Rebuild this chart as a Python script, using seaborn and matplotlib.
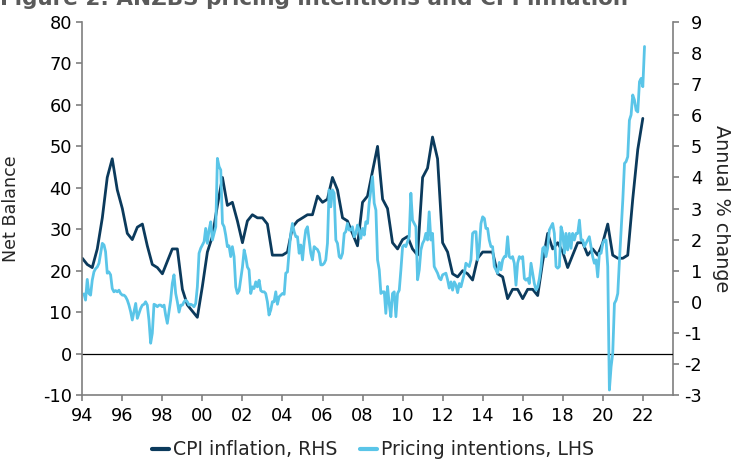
"""
ANZBS pricing intentions vs CPI inflation (dual axis line chart).
"""

import pandas as pd
import matplotlib
matplotlib.use("Agg")
import matplotlib.pyplot as plt
import matplotlib.dates as mdates
from matplotlib.lines import Line2D
import seaborn as sns

# Pricing intentions, net balance, monthly Jan 1994 - Jan 2022 (LHS)
pricing_intentions = [
    14.4, 12.9, 17.9, 14.5, 14.1, 17.7, 19.7, 20.5, 20.9, 21.8, 24.2, 26.6,
    26.2, 24.6, 19.4, 19.7, 19.0, 15.7, 14.9, 15.2, 14.9, 15.3, 14.5, 14.1,
    14.1, 13.7, 12.9, 11.7, 10.1, 8.1, 10.1, 12.1, 8.5, 9.7, 10.9, 11.7,
    11.9, 12.5, 11.7, 8.1, 2.5, 4.9, 11.9, 11.7, 11.3, 11.7, 11.7, 11.3,
    11.7, 9.3, 7.3, 10.0, 12.9, 16.9, 19.0, 14.5, 12.5, 10.0, 11.7, 11.7,
    12.5, 12.9, 12.5, 11.7, 11.9, 11.7, 11.3, 12.1, 16.1, 24.2, 25.4, 26.2,
    27.0, 30.2, 26.6, 29.8, 31.8, 27.4, 29.0, 30.6, 47.1, 45.1, 44.3, 31.4,
    30.6, 28.6, 25.8, 26.0, 23.4, 25.8, 23.4, 16.1, 14.5, 15.2, 18.1, 20.9,
    25.0, 23.4, 20.9, 20.2, 14.5, 16.1, 15.7, 17.3, 16.1, 17.7, 15.2, 14.9,
    14.9, 14.5, 12.5, 9.3, 10.5, 12.5, 12.5, 14.9, 11.9, 13.7, 14.1, 14.5,
    14.3, 19.4, 19.7, 24.6, 29.0, 31.4, 29.4, 28.2, 28.2, 24.2, 26.2, 22.6,
    27.0, 29.8, 30.6, 27.4, 24.2, 22.6, 25.8, 25.4, 25.1, 24.2, 21.4, 21.4,
    21.8, 22.6, 26.6, 39.5, 35.4, 39.5, 38.7, 27.4, 26.6, 23.4, 23.0, 24.2,
    29.0, 29.4, 31.4, 29.8, 29.8, 30.6, 28.2, 29.0, 31.0, 29.8, 27.8, 30.2,
    28.6, 31.8, 31.4, 36.3, 39.5, 42.7, 36.3, 34.6, 22.6, 20.2, 14.5, 14.9,
    14.9, 9.7, 16.2, 12.1, 8.9, 14.5, 14.9, 8.9, 14.5, 15.3, 20.2, 25.8,
    26.2, 25.8, 27.0, 28.2, 38.7, 32.2, 31.4, 30.6, 17.8, 20.2, 25.0, 26.6,
    27.4, 29.0, 27.4, 34.2, 27.4, 29.0, 21.0, 20.2, 19.4, 18.2, 17.8, 19.0,
    19.2, 19.4, 17.8, 15.8, 17.3, 15.3, 17.3, 16.5, 14.7, 16.9, 16.1, 17.8,
    19.4, 21.8, 21.4, 21.0, 22.6, 29.0, 29.4, 29.4, 22.6, 25.8, 31.4, 33.0,
    32.6, 30.2, 30.2, 27.4, 25.8, 25.8, 21.0, 20.2, 19.4, 22.0, 20.2, 22.6,
    23.4, 23.4, 28.2, 23.4, 23.0, 23.4, 21.8, 16.5, 21.8, 23.4, 23.0, 23.4,
    18.1, 17.7, 18.1, 16.9, 21.8, 19.4, 16.9, 15.3, 16.1, 18.1, 21.0, 25.4,
    25.8, 23.4, 25.4, 29.8, 30.6, 31.4, 29.0, 21.0, 20.6, 21.0, 30.6, 29.0,
    24.2, 29.0, 25.0, 29.0, 25.4, 29.0, 27.4, 29.0, 29.0, 32.2, 27.4, 27.4,
    25.8, 26.6, 27.4, 28.2, 25.8, 23.4, 21.8, 22.6, 18.5, 24.2, 24.2, 26.6,
    27.4, 27.4, 21.0, -8.8, -3.2, 0.1, 12.1, 12.9, 14.5, 22.6, 29.8, 37.1,
    45.9, 46.3, 47.5, 56.3, 57.6, 62.4, 61.2, 58.7, 58.3, 65.6, 66.4, 64.4,
    74.1,
]

# CPI inflation, annual % change, quarterly Dec 1993 - Dec 2021 (RHS)
cpi_inflation = [
    1.4,
    1.2, 1.1, 1.7, 2.7, 4.0, 4.6, 3.6, 3.0, 2.2, 2.0, 2.4, 2.5,
    1.8, 1.2, 1.1, 0.9, 1.3, 1.7, 1.7, 0.4, -0.1, -0.3, -0.5, 0.5,
    1.6, 2.1, 3.1, 4.0, 3.1, 3.2, 2.6, 1.9, 2.6, 2.8, 2.7, 2.7,
    2.5, 1.5, 1.5, 1.5, 1.6, 2.4, 2.6, 2.7, 2.8, 2.8, 3.4, 3.2,
    3.3, 4.0, 3.6, 2.7, 2.6, 2.2, 1.8, 3.2, 3.4, 4.2, 5.0, 3.3,
    3.0, 1.9, 1.7, 2.0, 2.1, 1.7, 1.5, 4.0, 4.3, 5.3, 4.6, 1.9,
    1.6, 0.9, 0.8, 1.0, 0.9, 0.7, 1.4, 1.6, 1.6, 1.6, 0.9, 0.8,
    0.1, 0.4, 0.4, 0.1, 0.4, 0.4, 0.2, 1.3, 2.2, 1.7, 1.9, 1.6,
    1.1, 1.5, 1.9, 1.9, 1.5, 1.7, 1.5, 1.9, 2.5, 1.5, 1.4, 1.4,
    1.5, 3.3, 4.9, 5.9,
]

pricing_dates = pd.period_range("1994-01", periods=len(pricing_intentions), freq="M").to_timestamp(how="end")
cpi_dates = pd.period_range("1993Q4", periods=len(cpi_inflation), freq="Q").to_timestamp(how="end")

DARK = "#0b3a5c"
LIGHT = "#5ac5e8"
GREY = "#7f7f7f"

sns.set_style("ticks")
plt.rcParams["font.family"] = ["DejaVu Sans"]
plt.rcParams["axes.unicode_minus"] = False

fig = plt.figure(figsize=(7.31, 4.59), dpi=100)
ax = fig.add_axes([0.1126, 0.1394, 0.8077, 0.8126])
ax2 = ax.twinx()

sns.lineplot(x=pricing_dates, y=pricing_intentions, ax=ax, color=LIGHT, linewidth=2.0)
sns.lineplot(x=cpi_dates, y=cpi_inflation, ax=ax2, color=DARK, linewidth=2.0)
ax.axhline(0, color="black", linewidth=0.9, zorder=0.5)

# pricing line drawn over the CPI line
ax.set_zorder(ax2.get_zorder() + 1)
ax.patch.set_visible(False)

ax.set_xlim(pd.Timestamp("1994-01-01"), pd.Timestamp("2023-07-01"))
ax.xaxis.set_major_locator(mdates.YearLocator(2))
ax.xaxis.set_major_formatter(mdates.DateFormatter("%y"))

ax.set_ylim(-10, 80)
ax.set_yticks(range(-10, 81, 10))
ax2.set_ylim(-3, 9)
ax2.set_yticks(range(-3, 10))

for a in (ax, ax2):
    a.set_xlabel("")
    for s in a.spines.values():
        s.set_color(GREY)
        s.set_linewidth(1.2)
    a.spines["top"].set_visible(False)
ax.spines["right"].set_visible(False)
ax2.spines["left"].set_visible(False)
ax2.spines["bottom"].set_visible(False)

ax.tick_params(axis="both", colors=GREY, labelcolor="black", labelsize=12.8,
               length=4, width=1.2, direction="out")
ax.tick_params(axis="y", pad=3.5)
ax.tick_params(axis="x", pad=4.5)
ax2.tick_params(axis="y", colors=GREY, labelcolor="black", labelsize=12.8,
                length=4, width=1.2, direction="out", pad=17)
plt.setp(ax2.get_yticklabels(), ha="right")

ax.set_ylabel("Net Balance", fontsize=12.6)
ax.yaxis.set_label_coords(-0.105, 0.5)
ax2.set_ylabel("Annual % change", fontsize=13.8, rotation=-90, va="center")
ax2.yaxis.set_label_coords(1.083, 0.5)

handles = [Line2D([0], [0], color=DARK, lw=3), Line2D([0], [0], color=LIGHT, lw=3)]
fig.legend(handles, ["CPI inflation, RHS", "Pricing intentions, LHS"],
           loc="center", bbox_to_anchor=(0.51, 0.02), ncol=2, frameon=False,
           handlelength=0.9, handletextpad=0.2, columnspacing=1.2, fontsize=13.6)

# title sits mostly above the canvas, as in the source export
fig.text(0.0, 0.990, "Figure 2: ANZBS pricing intentions and CPI inflation",
         fontsize=15.5, fontweight="bold", color="#5a5a5a", ha="left", va="baseline")

plt.savefig("out.png", dpi=100)
plt.close()
